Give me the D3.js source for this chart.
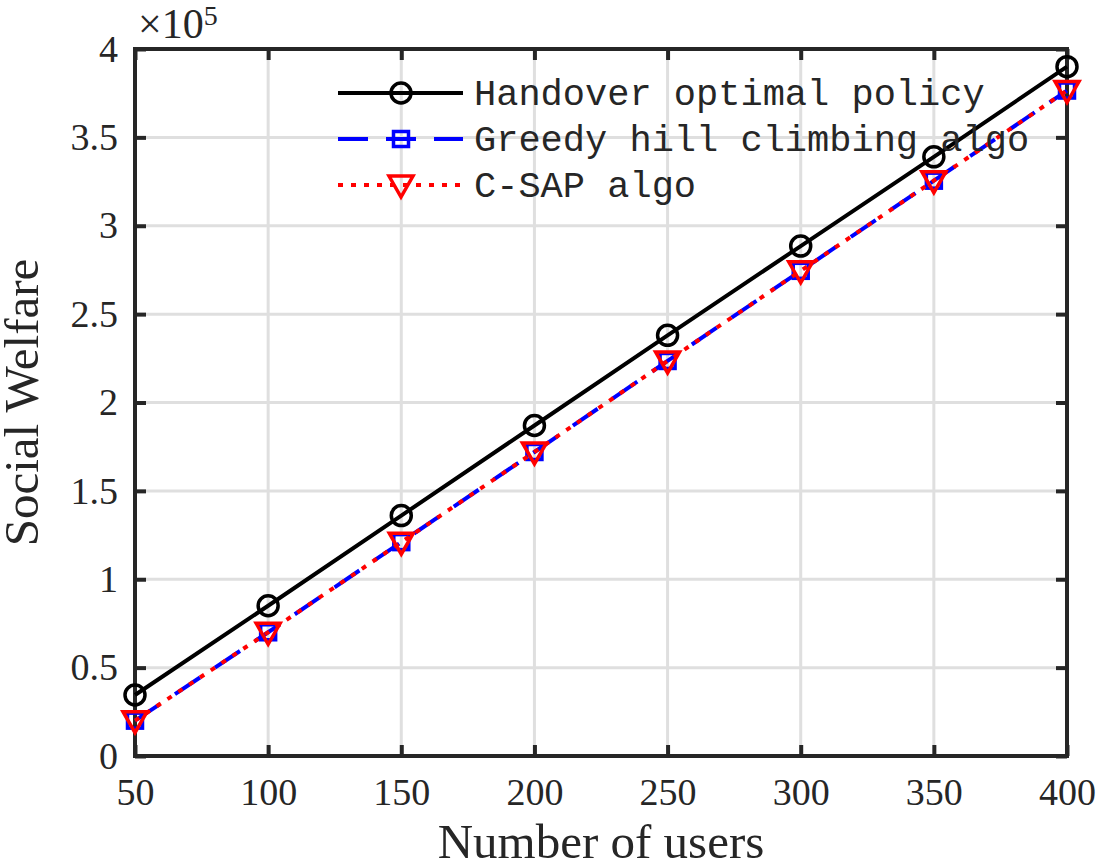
<!DOCTYPE html>
<html>
<head>
<meta charset="utf-8">
<script src="https://cdn.jsdelivr.net/npm/d3@7"></script>
<style>
  body { margin: 0; background: #fff; }
  svg { display: block; }
</style>
</head>
<body>
<svg id="chart" width="1097" height="864"></svg>
<script>
// Data (values in units of 1e5)
const users = [50, 100, 150, 200, 250, 300, 350, 400];
const handover = [0.345, 0.85, 1.36, 1.87, 2.38, 2.885, 3.39, 3.90];
const greedy = [0.20, 0.70, 1.21, 1.72, 2.235, 2.745, 3.255, 3.765];
const csap = [0.20, 0.70, 1.21, 1.72, 2.235, 2.745, 3.255, 3.765];
const xTicks = [50, 100, 150, 200, 250, 300, 350, 400];
const yTicks = [0, 0.5, 1, 1.5, 2, 2.5, 3, 3.5, 4];

const series = [
  { name: "Handover optimal policy", values: handover, color: "#000000", dash: null, marker: "circle" },
  { name: "Greedy hill climbing algo", values: greedy, color: "#0000ff", dash: "30,18", marker: "square" },
  { name: "C-SAP algo", values: csap, color: "#ff0000", dash: "5,8", marker: "triangle" }
];

const svg = d3.select("#chart");
const margin = { top: 49, right: 30, bottom: 108, left: 135 };
const width = 1067 - margin.left;
const height = 756 - margin.top;

const serif = "'Liberation Serif', 'DejaVu Serif', serif";
const mono = "'Liberation Mono', 'DejaVu Sans Mono', monospace";

const g = svg.append("g").attr("transform", `translate(${margin.left},${margin.top})`);

const x = d3.scaleLinear().domain([50, 400]).range([0, width]);
const y = d3.scaleLinear().domain([0, 4]).range([height, 0]);

// Grid
g.append("g").selectAll("line").data(xTicks).enter().append("line")
  .attr("x1", d => x(d)).attr("x2", d => x(d))
  .attr("y1", 0).attr("y2", height)
  .attr("stroke", "#dfdfdf").attr("stroke-width", 3);
g.append("g").selectAll("line").data(yTicks).enter().append("line")
  .attr("x1", 0).attr("x2", width)
  .attr("y1", d => y(d)).attr("y2", d => y(d))
  .attr("stroke", "#dfdfdf").attr("stroke-width", 3);

// Axes (ticks inside, on all four sides)
const axisColor = "#262626";
const styleAxis = sel => {
  sel.select(".domain").remove();
  sel.selectAll(".tick line").attr("stroke", axisColor).attr("stroke-width", 4);
  sel.selectAll("text").attr("fill", axisColor).style("font-family", serif).style("font-size", "38px");
};
g.append("g").attr("transform", `translate(0,${height})`)
  .call(d3.axisBottom(x).tickValues(xTicks).tickSize(-11).tickPadding(22).tickFormat(d3.format("d")))
  .call(styleAxis);
g.append("g")
  .call(d3.axisTop(x).tickValues(xTicks).tickSize(-11).tickFormat(""))
  .call(styleAxis);
g.append("g")
  .call(d3.axisLeft(y).tickValues(yTicks).tickSize(-11).tickPadding(17).tickFormat(d => d))
  .call(styleAxis);
g.append("g").attr("transform", `translate(${width},0)`)
  .call(d3.axisRight(y).tickValues(yTicks).tickSize(-11).tickFormat(""))
  .call(styleAxis);

// Box
g.append("rect").attr("width", width).attr("height", height)
  .attr("fill", "none").attr("stroke", axisColor).attr("stroke-width", 4);

// Markers
const drawMarker = (sel, type, color) => {
  if (type === "circle") {
    sel.append("circle").attr("r", 10).attr("fill", "none")
      .attr("stroke", color).attr("stroke-width", 3.5);
  } else if (type === "square") {
    sel.append("rect").attr("x", -7.5).attr("y", -7.5).attr("width", 15).attr("height", 15)
      .attr("fill", "none").attr("stroke", color).attr("stroke-width", 3.5);
  } else {
    sel.append("path").attr("d", "M-12,-9L12,-9L0,12Z").attr("fill", "none")
      .attr("stroke", color).attr("stroke-width", 3.5).attr("stroke-linejoin", "miter");
  }
};

const line = d3.line().x((d, i) => x(users[i])).y(d => y(d));

series.forEach(s => {
  g.append("path").datum(s.values)
    .attr("d", line)
    .attr("fill", "none")
    .attr("stroke", s.color)
    .attr("stroke-width", 4)
    .attr("stroke-dasharray", s.dash);
  g.append("g").selectAll("g").data(s.values).enter().append("g")
    .attr("transform", (d, i) => `translate(${x(users[i])},${y(d)})`)
    .each(function () { drawMarker(d3.select(this), s.marker, s.color); });
});

// Legend
const legend = svg.append("g");
series.forEach((s, i) => {
  const ly = 93 + i * 46;
  legend.append("line").attr("x1", 338).attr("x2", 463).attr("y1", ly).attr("y2", ly)
    .attr("stroke", s.color).attr("stroke-width", 4).attr("stroke-dasharray", s.dash);
  const m = legend.append("g").attr("transform", `translate(401,${ly})`);
  drawMarker(m, s.marker, s.color);
  legend.append("text").attr("x", 474).attr("y", ly + 12)
    .style("font-family", mono).style("font-size", "37px").attr("fill", "#262626")
    .text(s.name);
});

// Exponent label
svg.append("text").attr("x", 138).attr("y", 38)
  .style("font-family", serif).style("font-size", "42px").attr("fill", axisColor)
  .text("\u00d710")
  .append("tspan").attr("dy", -13).style("font-size", "28px").text("5");

// Axis labels
svg.append("text").attr("x", margin.left + width / 2).attr("y", 858)
  .attr("text-anchor", "middle")
  .style("font-family", serif).style("font-size", "49px").attr("fill", axisColor)
  .text("Number of users");
svg.append("text").attr("transform", `translate(38,${margin.top + height / 2}) rotate(-90)`)
  .attr("text-anchor", "middle")
  .style("font-family", serif).style("font-size", "49px").attr("fill", axisColor)
  .text("Social Welfare");
</script>
</body>
</html>
